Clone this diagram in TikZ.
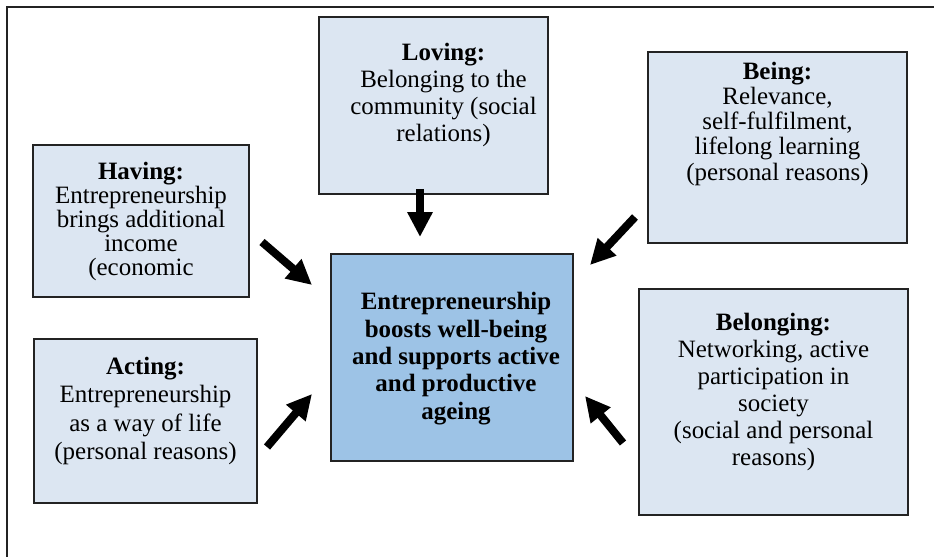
\documentclass[tikz,border=0pt]{standalone}
\usepackage{fontspec}
\setmainfont{LiberationSerif}[Extension=.ttf, UprightFont=*-Regular, BoldFont=*-Bold, ItalicFont=*-Italic, BoldItalicFont=*-BoldItalic]
\usepackage{tikz}
\usetikzlibrary{arrows.meta,positioning}
\usepackage{xcolor}
\definecolor{ablightblue}{RGB}{220,230,242}
\definecolor{abmidblue}{RGB}{157,195,230}
\definecolor{abborder}{RGB}{35,35,35}
\tikzstyle{blockarrow} = [line width=0.16cm,-{Triangle[length=0.5cm,width=0.48cm]},color=black]
\tikzstyle{needbox} = [rectangle, draw=abborder, fill=ablightblue, line width=0.7pt, inner sep=0pt]
\tikzstyle{corebox} = [rectangle, draw=abborder, fill=abmidblue, line width=1.1pt, inner sep=0pt]
\tikzstyle{needtext} = [inner sep=0pt, align=center, font=\rmfamily\fontsize{14.2pt}{15.4pt}\selectfont]

\begin{document}
\begin{tikzpicture}[x=0.02cm, y=-0.02cm]
\useasboundingbox (0,0) rectangle (934,557);

% Frame
\draw[line width=1.5pt, color=abborder] (7,557) -- (7,7) -- (934,7);

% Central node
\node[corebox, minimum width=4.84cm, minimum height=4.14cm] (core) at (452,357.5) {};
\node[needtext, below=0.78cm of core.north, xshift=0.08cm, font=\rmfamily\fontsize{14.2pt}{15.6pt}\selectfont\bfseries] (coretext)
  {Entrepreneurship\\boosts well-being\\and supports active\\and productive\\ageing};

% Surrounding needs
\node[needbox, minimum width=4.32cm, minimum height=3.04cm] (having) at (141,221) {};
\node[needtext, below=0.34cm of having.north, font=\rmfamily\fontsize{14.2pt}{13.7pt}\selectfont] (havingtext)
  {\textbf{Having:}\\Entrepreneurship\\brings additional\\income\\(economic};

\node[needbox, minimum width=4.58cm, minimum height=3.54cm] (loving) at (433.5,105.5) {};
\node[needtext, below=0.52cm of loving.north, xshift=0.2cm] (lovingtext)
  {\textbf{Loving:}\\Belonging to the\\community (social\\relations)};

\node[needbox, minimum width=5.18cm, minimum height=3.82cm] (being) at (777.5,147.5) {};
\node[needtext, below=0.21cm of being.north, font=\rmfamily\fontsize{14.2pt}{14.3pt}\selectfont] (beingtext)
  {\textbf{Being:}\\Relevance,\\self-fulfilment,\\lifelong learning\\(personal reasons)};

\node[needbox, minimum width=4.46cm, minimum height=3.28cm] (acting) at (145.5,421) {};
\node[needtext, below=0.36cm of acting.north, font=\rmfamily\fontsize{14.2pt}{16.3pt}\selectfont] (actingtext)
  {\textbf{Acting:}\\Entrepreneurship\\as a way of life\\(personal reasons)};

\node[needbox, minimum width=5.38cm, minimum height=4.52cm] (belonging) at (773.5,402) {};
\node[needtext, below=0.48cm of belonging.north] (belongingtext)
  {\textbf{Belonging:}\\Networking, active\\participation in\\society\\(social and personal\\reasons)};

% Arrow ends
\coordinate (lovingtail) at (420,189);
\coordinate (lovingtip) at (420,237);
\coordinate (havingtail) at (262,242);
\coordinate (havingtip) at (312,285);
\coordinate (actingtail) at (267,447);
\coordinate (actingtip) at (312,394);
\coordinate (beingtail) at (635,217);
\coordinate (beingtip) at (590,265);
\coordinate (belongingtail) at (623,443);
\coordinate (belongingtip) at (585,396);

% Connections
\draw[blockarrow] (lovingtail) -- (lovingtip);
\draw[blockarrow] (havingtail) -- (havingtip);
\draw[blockarrow] (actingtail) -- (actingtip);
\draw[blockarrow] (beingtail) -- (beingtip);
\draw[blockarrow] (belongingtail) -- (belongingtip);

\end{tikzpicture}
\end{document}
